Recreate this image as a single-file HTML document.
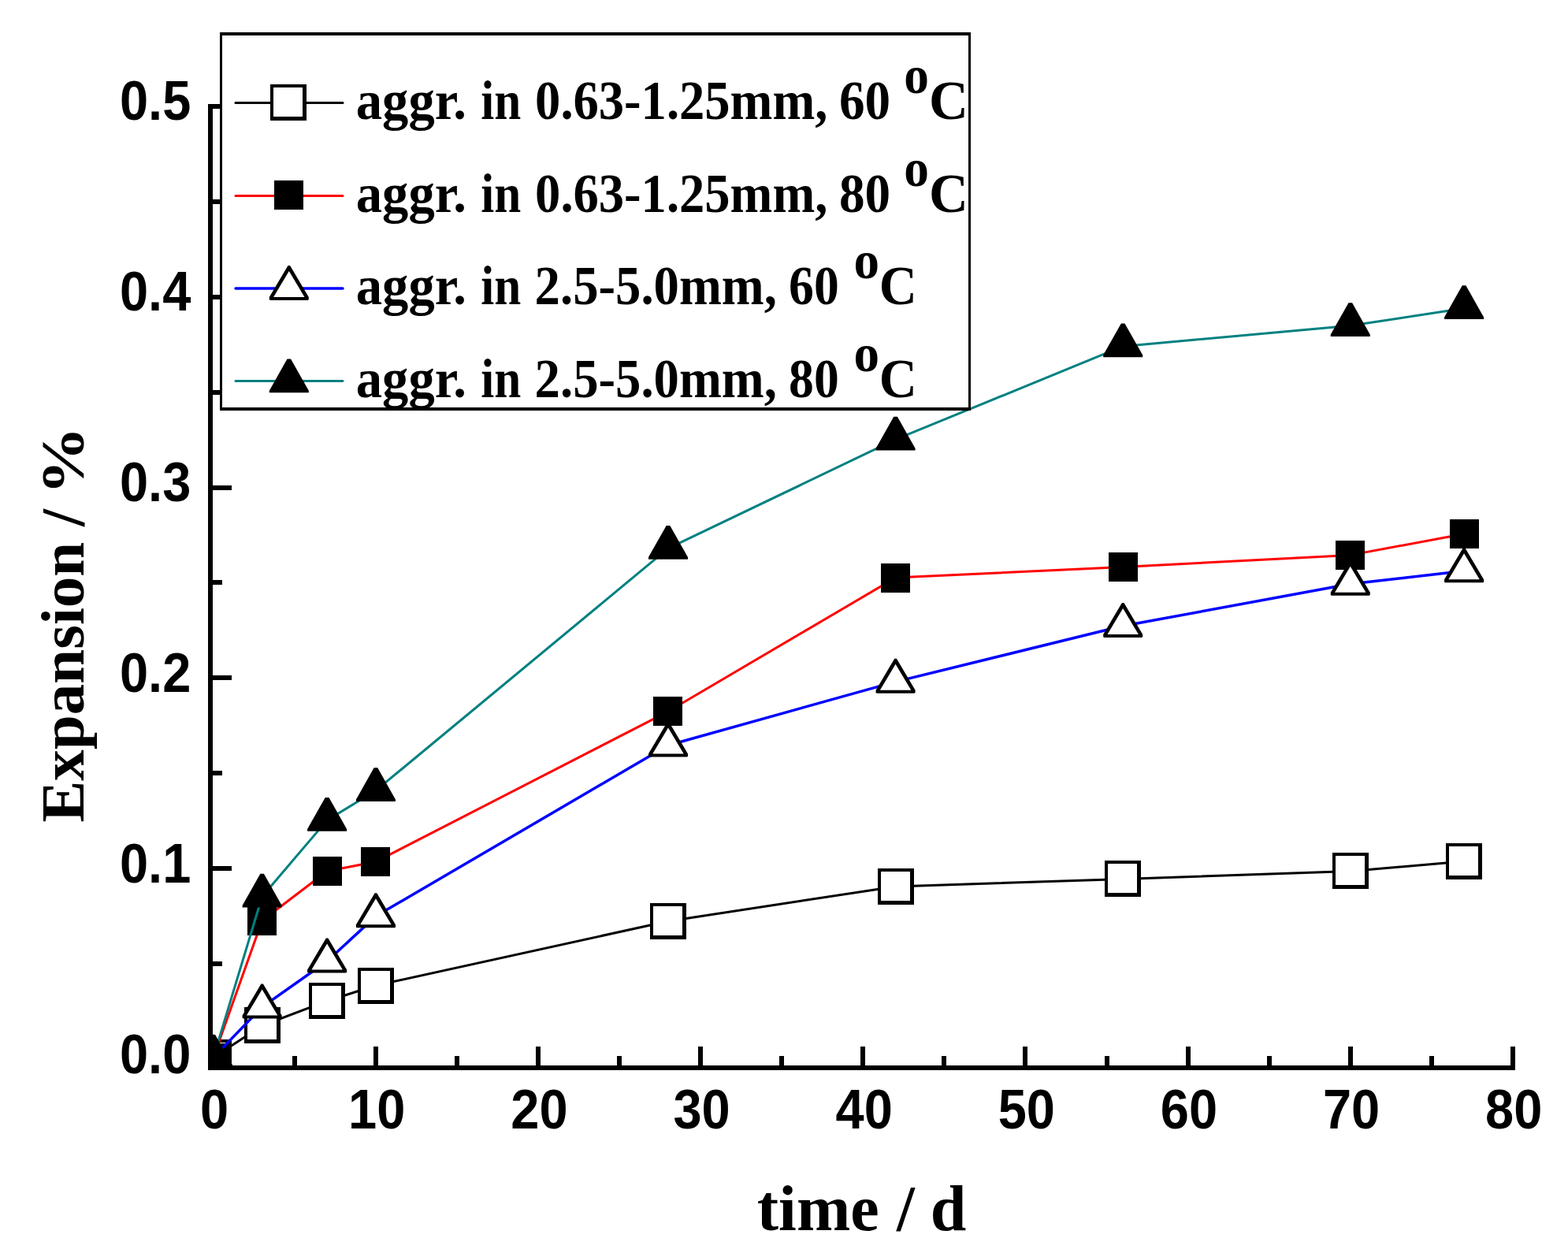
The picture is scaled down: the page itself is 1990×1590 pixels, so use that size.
<!DOCTYPE html>
<html><head><meta charset="utf-8"><title>Expansion vs time</title>
<style>
html,body{margin:0;padding:0;background:#fff;}
svg{display:block;}
.tl{font-family:"Liberation Sans",Arial,sans-serif;font-weight:bold;}
.tt{font-family:"Liberation Serif","Times New Roman",serif;font-weight:bold;}
</style></head><body>
<svg width="1990" height="1590" viewBox="0 0 1990 1590">
<rect x="0" y="0" width="1990" height="1590" fill="#fff"/>
<defs><clipPath id="pc"><rect x="267" y="120" width="1660" height="1235"/></clipPath></defs>

<g clip-path="url(#pc)">
<polyline points="270.8,1342 332.64,1301.5 415.1,1270.2 476.94,1250.5 847.99,1169 1136.59,1124.9 1425.18,1115.4 1713.78,1105.4 1858.08,1093" fill="none" stroke="#000000" stroke-width="3" stroke-linejoin="round" stroke-linecap="round"/>
<rect x="248" y="1319" width="46" height="46" fill="#000"/><rect x="252" y="1323" width="37" height="37" fill="#fff"/>
<rect x="310" y="1278" width="46" height="46" fill="#000"/><rect x="314" y="1282" width="37" height="37" fill="#fff"/>
<rect x="392" y="1247" width="46" height="46" fill="#000"/><rect x="396" y="1251" width="37" height="37" fill="#fff"/>
<rect x="454" y="1228" width="46" height="46" fill="#000"/><rect x="458" y="1232" width="37" height="37" fill="#fff"/>
<rect x="825" y="1146" width="46" height="46" fill="#000"/><rect x="829" y="1150" width="37" height="37" fill="#fff"/>
<rect x="1114" y="1102" width="46" height="46" fill="#000"/><rect x="1118" y="1106" width="37" height="37" fill="#fff"/>
<rect x="1402" y="1092" width="46" height="46" fill="#000"/><rect x="1406" y="1096" width="37" height="37" fill="#fff"/>
<rect x="1691" y="1082" width="46" height="46" fill="#000"/><rect x="1695" y="1086" width="37" height="37" fill="#fff"/>
<rect x="1835" y="1070" width="46" height="46" fill="#000"/><rect x="1839" y="1074" width="37" height="37" fill="#fff"/>
<polyline points="270.8,1342 332.64,1168.3 415.1,1105.5 476.94,1093.5 847.99,902.8 1136.59,733.1 1425.18,719.4 1713.78,704.4 1858.08,677.5" fill="none" stroke="#ff0000" stroke-width="3" stroke-linejoin="round" stroke-linecap="round"/>
<rect x="252" y="1324" width="37" height="37" fill="#000"/>
<rect x="314" y="1150" width="37" height="37" fill="#000"/>
<rect x="397" y="1087" width="37" height="37" fill="#000"/>
<rect x="458" y="1075" width="37" height="37" fill="#000"/>
<rect x="829" y="884" width="37" height="37" fill="#000"/>
<rect x="1118" y="715" width="37" height="37" fill="#000"/>
<rect x="1407" y="701" width="37" height="37" fill="#000"/>
<rect x="1695" y="686" width="37" height="37" fill="#000"/>
<rect x="1840" y="659" width="37" height="37" fill="#000"/>
<polyline points="270.8,1342 332.64,1277.9 415.1,1219.8 476.94,1162.6 847.99,945.7 1136.59,865.1 1425.18,794.3 1713.78,741 1858.08,724.6" fill="none" stroke="#0000ff" stroke-width="3.5" stroke-linejoin="round" stroke-linecap="round"/>
<polygon points="269.5,1312.7 272.1,1312.7 295.8,1352.7 295.8,1355.7 294.8,1356.7 246.8,1356.7 245.8,1355.7 245.8,1352.7" fill="#000"/><polygon points="270.8,1319.7 290.5,1352.7 251.1,1352.7" fill="#fff"/>
<polygon points="331.34,1248.6 333.94,1248.6 357.64,1288.6 357.64,1291.6 356.64,1292.6 308.64,1292.6 307.64,1291.6 307.64,1288.6" fill="#000"/><polygon points="332.64,1255.6 352.34,1288.6 312.94,1288.6" fill="#fff"/>
<polygon points="413.8,1190.5 416.4,1190.5 440.1,1230.5 440.1,1233.5 439.1,1234.5 391.1,1234.5 390.1,1233.5 390.1,1230.5" fill="#000"/><polygon points="415.1,1197.5 434.8,1230.5 395.4,1230.5" fill="#fff"/>
<polygon points="475.64,1133.3 478.24,1133.3 501.94,1173.3 501.94,1176.3 500.94,1177.3 452.94,1177.3 451.94,1176.3 451.94,1173.3" fill="#000"/><polygon points="476.94,1140.3 496.64,1173.3 457.24,1173.3" fill="#fff"/>
<polygon points="846.69,916.4 849.29,916.4 872.99,956.4 872.99,959.4 871.99,960.4 823.99,960.4 822.99,959.4 822.99,956.4" fill="#000"/><polygon points="847.99,923.4 867.69,956.4 828.29,956.4" fill="#fff"/>
<polygon points="1135.29,835.8 1137.89,835.8 1161.59,875.8 1161.59,878.8 1160.59,879.8 1112.59,879.8 1111.59,878.8 1111.59,875.8" fill="#000"/><polygon points="1136.59,842.8 1156.29,875.8 1116.89,875.8" fill="#fff"/>
<polygon points="1423.88,765 1426.48,765 1450.18,805 1450.18,808 1449.18,809 1401.18,809 1400.18,808 1400.18,805" fill="#000"/><polygon points="1425.18,772 1444.88,805 1405.48,805" fill="#fff"/>
<polygon points="1712.48,711.7 1715.08,711.7 1738.78,751.7 1738.78,754.7 1737.78,755.7 1689.78,755.7 1688.78,754.7 1688.78,751.7" fill="#000"/><polygon points="1713.78,718.7 1733.48,751.7 1694.08,751.7" fill="#fff"/>
<polygon points="1856.78,695.3 1859.38,695.3 1883.08,735.3 1883.08,738.3 1882.08,739.3 1834.08,739.3 1833.08,738.3 1833.08,735.3" fill="#000"/><polygon points="1858.08,702.3 1877.78,735.3 1838.38,735.3" fill="#fff"/>
<polyline points="270.8,1342 332.64,1137.7 415.1,1040.9 476.94,1003.2 847.99,695.9 1136.59,557.7 1425.18,439.4 1713.78,413.3 1858.08,391.3" fill="none" stroke="#008080" stroke-width="3" stroke-linejoin="round" stroke-linecap="round"/>
<polygon points="268.5,1313 273.1,1313 295.8,1353.2 295.8,1355.8 245.8,1355.8 245.8,1353.2" fill="#000"/>
<polygon points="330.34,1108.7 334.94,1108.7 357.64,1148.9 357.64,1151.5 307.64,1151.5 307.64,1148.9" fill="#000"/>
<polygon points="412.8,1011.9 417.4,1011.9 440.1,1052.1 440.1,1054.7 390.1,1054.7 390.1,1052.1" fill="#000"/>
<polygon points="474.64,974.2 479.24,974.2 501.94,1014.4 501.94,1017 451.94,1017 451.94,1014.4" fill="#000"/>
<polygon points="845.69,666.9 850.29,666.9 872.99,707.1 872.99,709.7 822.99,709.7 822.99,707.1" fill="#000"/>
<polygon points="1134.29,528.7 1138.89,528.7 1161.59,568.9 1161.59,571.5 1111.59,571.5 1111.59,568.9" fill="#000"/>
<polygon points="1422.88,410.4 1427.48,410.4 1450.18,450.6 1450.18,453.2 1400.18,453.2 1400.18,450.6" fill="#000"/>
<polygon points="1711.48,384.3 1716.08,384.3 1738.78,424.5 1738.78,427.1 1688.78,427.1 1688.78,424.5" fill="#000"/>
<polygon points="1855.78,362.3 1860.38,362.3 1883.08,402.5 1883.08,405.1 1833.08,405.1 1833.08,402.5" fill="#000"/>
</g>
<rect x="264" y="132" width="6" height="1226" fill="#000"/>
<rect x="264" y="1352" width="1659" height="6" fill="#000"/>
<rect x="264" y="1099" width="30" height="6" fill="#000"/>
<rect x="264" y="857" width="30" height="6" fill="#000"/>
<rect x="264" y="616" width="30" height="6" fill="#000"/>
<rect x="264" y="374" width="30" height="6" fill="#000"/>
<rect x="264" y="132" width="30" height="6" fill="#000"/>
<rect x="264" y="1220" width="18" height="6" fill="#000"/>
<rect x="264" y="978" width="18" height="6" fill="#000"/>
<rect x="264" y="736" width="18" height="6" fill="#000"/>
<rect x="264" y="495" width="18" height="6" fill="#000"/>
<rect x="264" y="253" width="18" height="6" fill="#000"/>
<rect x="268" y="1328" width="6" height="30" fill="#000"/>
<rect x="474" y="1328" width="6" height="30" fill="#000"/>
<rect x="680" y="1328" width="6" height="30" fill="#000"/>
<rect x="886" y="1328" width="6" height="30" fill="#000"/>
<rect x="1092" y="1328" width="6" height="30" fill="#000"/>
<rect x="1298" y="1328" width="6" height="30" fill="#000"/>
<rect x="1505" y="1328" width="6" height="30" fill="#000"/>
<rect x="1711" y="1328" width="6" height="30" fill="#000"/>
<rect x="1917" y="1328" width="6" height="30" fill="#000"/>
<rect x="371" y="1340" width="6" height="18" fill="#000"/>
<rect x="577" y="1340" width="6" height="18" fill="#000"/>
<rect x="783" y="1340" width="6" height="18" fill="#000"/>
<rect x="989" y="1340" width="6" height="18" fill="#000"/>
<rect x="1195" y="1340" width="6" height="18" fill="#000"/>
<rect x="1402" y="1340" width="6" height="18" fill="#000"/>
<rect x="1608" y="1340" width="6" height="18" fill="#000"/>
<rect x="1814" y="1340" width="6" height="18" fill="#000"/>
<text class="tl" transform="translate(242.3,1361.6) scale(0.935,1)" font-size="69.5" text-anchor="end">0.0</text>
<text class="tl" transform="translate(242.3,1119.77) scale(0.935,1)" font-size="69.5" text-anchor="end">0.1</text>
<text class="tl" transform="translate(242.3,877.93) scale(0.935,1)" font-size="69.5" text-anchor="end">0.2</text>
<text class="tl" transform="translate(242.3,636.1) scale(0.935,1)" font-size="69.5" text-anchor="end">0.3</text>
<text class="tl" transform="translate(242.3,394.27) scale(0.935,1)" font-size="69.5" text-anchor="end">0.4</text>
<text class="tl" transform="translate(242.3,152.44) scale(0.935,1)" font-size="69.5" text-anchor="end">0.5</text>
<text class="tl" transform="translate(272.1,1431.7) scale(0.935,1)" font-size="69.5" text-anchor="middle">0</text>
<text class="tl" transform="translate(478.24,1431.7) scale(0.935,1)" font-size="69.5" text-anchor="middle">10</text>
<text class="tl" transform="translate(684.38,1431.7) scale(0.935,1)" font-size="69.5" text-anchor="middle">20</text>
<text class="tl" transform="translate(890.52,1431.7) scale(0.935,1)" font-size="69.5" text-anchor="middle">30</text>
<text class="tl" transform="translate(1096.66,1431.7) scale(0.935,1)" font-size="69.5" text-anchor="middle">40</text>
<text class="tl" transform="translate(1302.8,1431.7) scale(0.935,1)" font-size="69.5" text-anchor="middle">50</text>
<text class="tl" transform="translate(1508.94,1431.7) scale(0.935,1)" font-size="69.5" text-anchor="middle">60</text>
<text class="tl" transform="translate(1715.08,1431.7) scale(0.935,1)" font-size="69.5" text-anchor="middle">70</text>
<text class="tl" transform="translate(1921.22,1431.7) scale(0.935,1)" font-size="69.5" text-anchor="middle">80</text>
<rect x="279" y="41" width="953" height="480" fill="#fff"/>
<rect x="279" y="41" width="953" height="4" fill="#000"/>
<rect x="279" y="517" width="953" height="4" fill="#000"/>
<rect x="279" y="41" width="3" height="480" fill="#000"/>
<rect x="1229" y="41" width="3" height="480" fill="#000"/>
<line x1="299" y1="130.5" x2="435" y2="130.5" stroke="#000000" stroke-width="3" stroke-linecap="round"/>
<rect x="343" y="107" width="46" height="46" fill="#000"/><rect x="347" y="111" width="37" height="37" fill="#fff"/>
<text class="tt" transform="translate(451.8,151.3) scale(0.966,1)" font-size="69">aggr.</text>
<text class="tt" transform="translate(610.3,151.3) scale(0.886,1)" font-size="69">in</text>
<text class="tt" transform="translate(679.1,151.3) scale(0.936,1)" font-size="69">0.63-1.25mm,</text>
<text class="tt" transform="translate(1065,151.3) scale(0.945,1)" font-size="69">60</text>
<text class="tt" transform="translate(1147.3,117.8) scale(0.945,1)" font-size="67">o</text>
<text class="tt" transform="translate(1178.9,151.3) scale(1.0,1)" font-size="69">C</text>
<line x1="299" y1="248.5" x2="435" y2="248.5" stroke="#ff0000" stroke-width="3" stroke-linecap="round"/>
<rect x="348" y="229" width="37" height="37" fill="#000"/>
<text class="tt" transform="translate(451.8,269.2) scale(0.966,1)" font-size="69">aggr.</text>
<text class="tt" transform="translate(610.3,269.2) scale(0.886,1)" font-size="69">in</text>
<text class="tt" transform="translate(679.1,269.2) scale(0.936,1)" font-size="69">0.63-1.25mm,</text>
<text class="tt" transform="translate(1065,269.2) scale(0.945,1)" font-size="69">80</text>
<text class="tt" transform="translate(1147.3,235.7) scale(0.945,1)" font-size="67">o</text>
<text class="tt" transform="translate(1178.9,269.2) scale(1.0,1)" font-size="69">C</text>
<line x1="299" y1="366" x2="435" y2="366" stroke="#0000ff" stroke-width="3.5" stroke-linecap="round"/>
<polygon points="365.5,337.1 368.1,337.1 391.8,377.1 391.8,380.1 390.8,381.1 342.8,381.1 341.8,380.1 341.8,377.1" fill="#000"/><polygon points="366.8,344.1 386.5,377.1 347.1,377.1" fill="#fff"/>
<text class="tt" transform="translate(451.8,386.3) scale(0.966,1)" font-size="69">aggr.</text>
<text class="tt" transform="translate(610.3,386.3) scale(0.886,1)" font-size="69">in</text>
<text class="tt" transform="translate(678.6,386.3) scale(0.938,1)" font-size="69">2.5-5.0mm,</text>
<text class="tt" transform="translate(1001.1,386.3) scale(0.923,1)" font-size="69">60</text>
<text class="tt" transform="translate(1083.5,352.8) scale(0.972,1)" font-size="67">o</text>
<text class="tt" transform="translate(1115.8,386.3) scale(0.964,1)" font-size="69">C</text>
<line x1="299" y1="483.5" x2="435" y2="483.5" stroke="#008080" stroke-width="3" stroke-linecap="round"/>
<polygon points="364.5,455.5 369.1,455.5 391.8,495.7 391.8,498.3 341.8,498.3 341.8,495.7" fill="#000"/>
<text class="tt" transform="translate(451.8,504.2) scale(0.966,1)" font-size="69">aggr.</text>
<text class="tt" transform="translate(610.3,504.2) scale(0.886,1)" font-size="69">in</text>
<text class="tt" transform="translate(678.6,504.2) scale(0.938,1)" font-size="69">2.5-5.0mm,</text>
<text class="tt" transform="translate(1001.1,504.2) scale(0.923,1)" font-size="69">80</text>
<text class="tt" transform="translate(1083.5,470.7) scale(0.972,1)" font-size="67">o</text>
<text class="tt" transform="translate(1115.8,504.2) scale(0.964,1)" font-size="69">C</text>
<text class="tt" font-size="79" transform="translate(105.6,1043.4) rotate(-90)">Expansion /</text>
<text class="tt" font-size="79" transform="translate(105.6,628.1) rotate(-90) scale(1.098,1)">%</text>
<text class="tt" font-size="82" transform="translate(960.8,1560.7)">time</text>
<text class="tt" font-size="82" transform="translate(1138.1,1560.7)">/</text>
<text class="tt" font-size="82" transform="translate(1180.8,1560.7)">d</text>
</svg>
</body></html>
